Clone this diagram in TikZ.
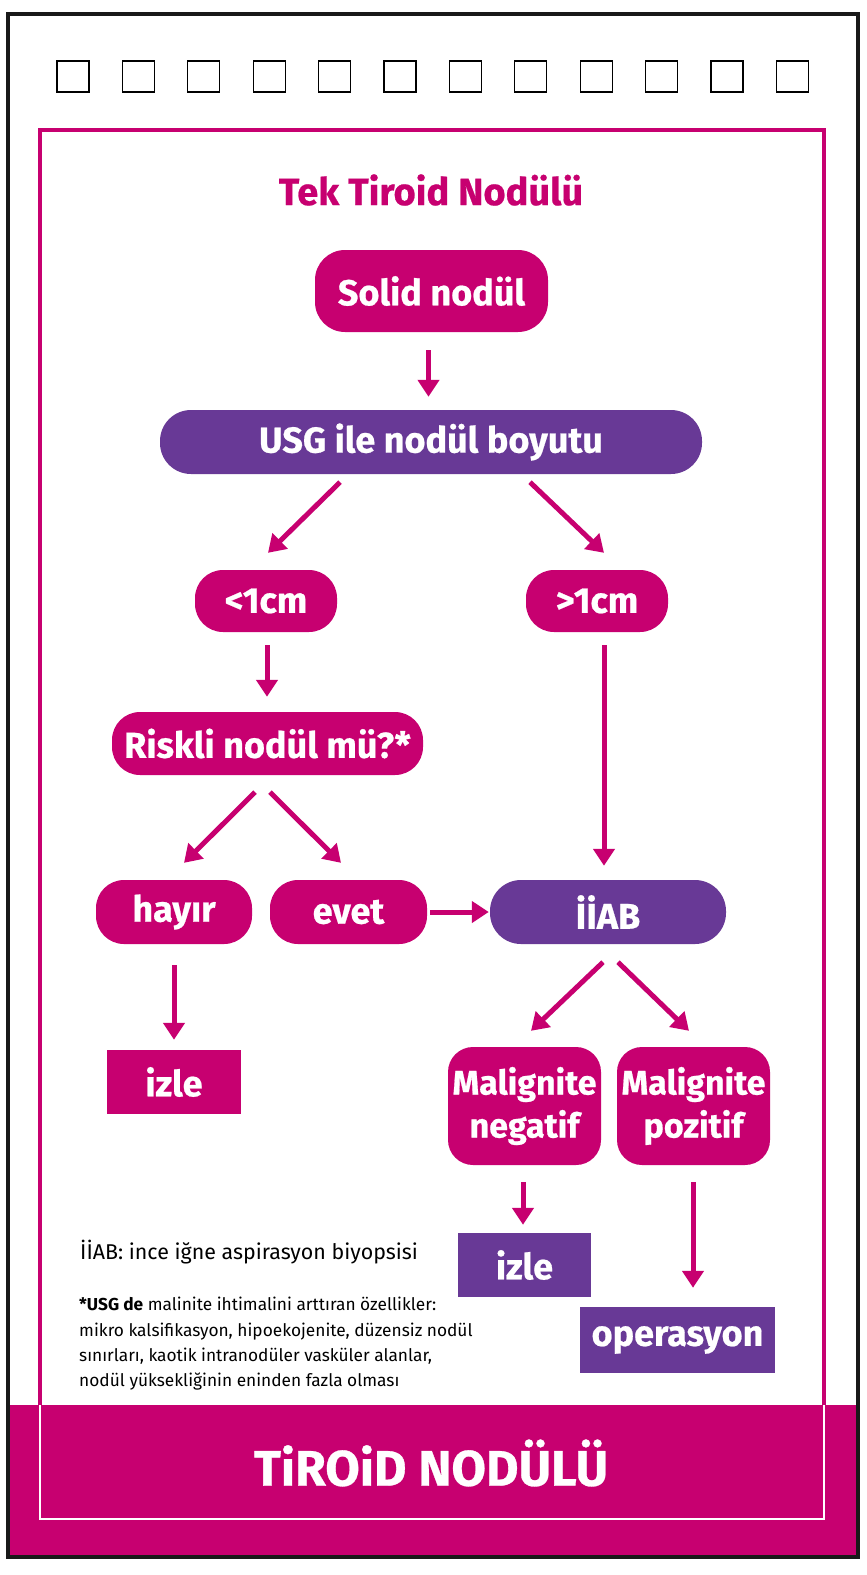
\documentclass[tikz,border=0pt]{standalone}
\usepackage{fontspec}
\usetikzlibrary{arrows.meta,calc}
\newfontfamily\din{Fira Sans}[BoldFeatures={FakeBold=0.6}]
\newfontfamily\dintext{Fira Sans}
\definecolor{mag}{RGB}{199,0,112}
\definecolor{pur}{RGB}{104,57,150}
\tikzset{
  box/.style={inner sep=0pt,text=white,font=\din\bfseries\fontsize{36}{40}\selectfont,align=center},
  magbox/.style={box,fill=mag},
  purbox/.style={box,fill=pur},
  arr/.style={draw=mag,line width=5pt,-{Triangle[length=17pt,width=21pt]}},
  sq/.style={draw=black,line width=1.1pt},
}
\begin{document}
\begin{tikzpicture}[x=1pt,y=-1pt]
\useasboundingbox (0,0) rectangle (867,1575);
\fill[white] (0,0) rectangle (867,1575);
% bottom band
\fill[mag] (8,1405) rectangle (858,1557);
% outer frame
\draw[line width=4pt,black!90] (8,14) rectangle (858,1557);
% inner frame
\draw[mag,line width=3.5pt] (40,1405) -- (40,130) -- (824,130) -- (824,1405);
\draw[white,line width=2.5pt] (40,1405) -- (40,1519) -- (824,1519) -- (824,1405);
% squares
\foreach \i in {0,...,11} {
  \draw[sq] ({57+\i*65.4},61) rectangle ({89+\i*65.4},92);
}
% titles
\node (title) at (431,190) {\color{mag}\din\bfseries\fontsize{38}{42}\selectfont Tek Tiroid Nodülü};
\node (band) at (431,1463) {\color{white}\din\bfseries\fontsize{50}{56}\selectfont TiROiD NODÜLÜ};
% nodes
\node[magbox,minimum width=233pt,minimum height=82pt,rounded corners=30pt] (solid) at (431.5,291) {Solid nodül};
\node[purbox,minimum width=542pt,minimum height=64pt,rounded corners=31pt] (usg) at (431,442) {USG ile nodül boyutu};
\node[magbox,minimum width=142pt,minimum height=62pt,rounded corners=28pt] (lt) at (266,601) {<1cm};
\node[magbox,minimum width=142pt,minimum height=62pt,rounded corners=28pt] (gt) at (597,601) {>1cm};
\node[magbox,minimum width=311pt,minimum height=63pt,rounded corners=28pt] (risk) at (267.5,743.5) {Riskli nodül mü?*};
\node[magbox,minimum width=156pt,minimum height=64pt,rounded corners=28pt] (hayir) at (174,912) {hayır};
\node[magbox,minimum width=157pt,minimum height=64pt,rounded corners=28pt] (evet) at (348.5,912) {evet};
\node[purbox,minimum width=236pt,minimum height=64pt,rounded corners=31pt] (iiab) at (608,912) {İİAB};
\node[magbox,minimum width=134pt,minimum height=64pt] (izleA) at (174,1082) {izle};
\node[magbox,minimum width=153pt,minimum height=118pt,rounded corners=25pt,font=\din\bfseries\fontsize{34}{43}\selectfont] (neg) at (524.5,1106) {Malignite\\negatif};
\node[magbox,minimum width=153pt,minimum height=118pt,rounded corners=25pt,font=\din\bfseries\fontsize{34}{43}\selectfont] (poz) at (693.5,1106) {Malignite\\pozitif};
\node[purbox,minimum width=133pt,minimum height=64pt] (izleB) at (524.5,1265) {izle};
\node[purbox,minimum width=195pt,minimum height=66pt] (oper) at (677.5,1340) {operasyon};
% arrows
\draw[arr] ($(solid.south)+(-3,18)$) -- ($(solid.south |- usg.north)+(-3,-13)$);
\draw[arr] ($(usg.south)+(-91,8)$) -- ($(lt.north)+(2,-17)$);
\draw[arr] ($(usg.south)+(99,8)$) -- ($(gt.north)+(7,-17)$);
\draw[arr] ($(lt.south)+(1,13)$) -- ($(lt.south |- risk.north)+(1,-15)$);
\draw[arr] ($(risk.south)+(-12.5,17)$) -- ($(hayir.north)+(10,-17)$);
\draw[arr] ($(risk.south)+(2.5,17)$) -- ($(evet.north)+(-7.5,-17)$);
\draw[arr] ($(evet.east)+(3,0)$) -- ($(iiab.west)+(-1,0)$);
\draw[arr] ($(gt.south)+(7,13)$) -- ($(iiab.north)+(-4,-14)$);
\draw[arr] ($(hayir.south)+(0,21)$) -- ($(izleA.north)+(0,-10)$);
\draw[arr] ($(iiab.south)+(-5,18)$) -- ($(neg.north)+(6.5,-16)$);
\draw[arr] ($(iiab.south)+(10,18)$) -- ($(poz.north)+(-4.5,-16)$);
\draw[arr] ($(neg.south)+(-1.5,17)$) -- ($(izleB.north)+(-1.5,-8)$);
\draw[arr] ($(poz.south)+(-0.5,17)$) -- ($(poz.south |- oper.north)+(-0.5,-19)$);
% notes
\node[anchor=base west,inner sep=0pt,font=\dintext\fontsize{21.4}{24}\selectfont] (abbr) at (80,1259) {İİAB: ince iğne aspirasyon biyopsisi};
\node[anchor=north west,inner sep=0pt,align=left,font=\dintext\fontsize{17.3}{25.3}\selectfont] (foot) at (79,1297) {{\bfseries *USG de} malinite ihtimalini arttıran özellikler:\\mikro kalsifikasyon, hipoekojenite, düzensiz nodül\\sınırları, kaotik intranodüler vasküler alanlar,\\nodül yüksekliğinin eninden fazla olması};
\end{tikzpicture}
\end{document}
